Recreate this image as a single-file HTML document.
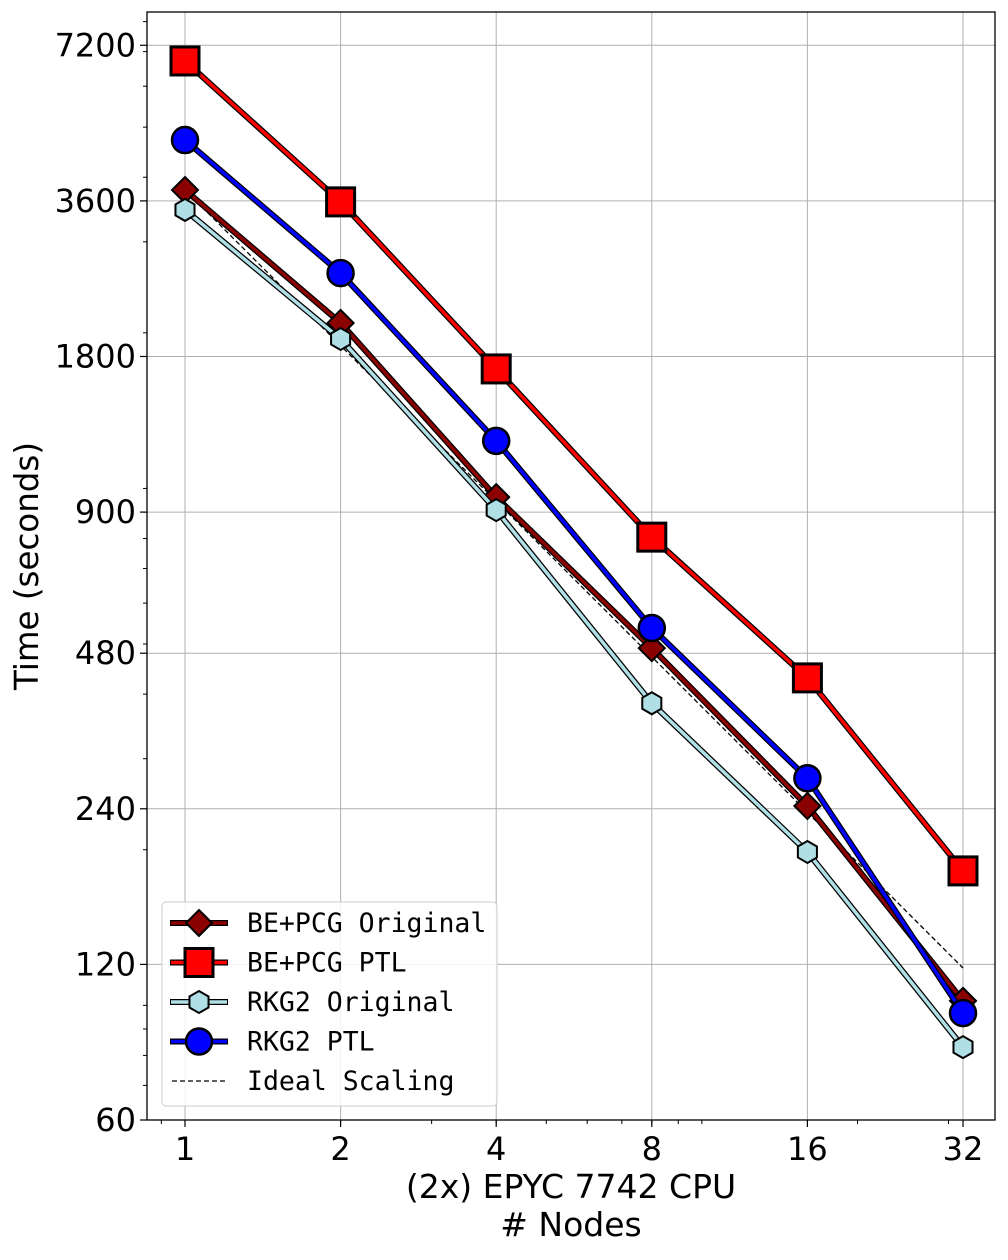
<!DOCTYPE html>
<html><head><meta charset="utf-8"><style>
body{margin:0;background:#fff}
svg text{font-family:"DejaVu Sans","Liberation Sans",sans-serif}
</style></head><body>
<svg id="chart" width="1008" height="1255" xmlns="http://www.w3.org/2000/svg"></svg>
<script>
const nodes=[1,2,4,8,16,32];
const bePcgOriginal=[3779,2090,962,491,243,102];
const bePcgPtl=[6714,3584,1703,805,430,182];
const rkg2Original=[3458,1946,908,384,198,83];
const rkg2Ptl=[4721,2610,1236,537,275,96.6];
const idealStart=3779;
const yTicks=[60,120,240,480,900,1800,3600,7200];
const xTicks=[1,2,4,8,16,32];

const L=147,T=12,R=995,B=1120,PX=155.6;
const xs=v=>185+Math.log2(v)*PX;
const ys=v=>1120-Math.log2(v/60)*PX;
const svg=document.getElementById('chart');
const NS='http://www.w3.org/2000/svg';
function mk(tag,attrs,parent){const e=document.createElementNS(NS,tag);for(const k in attrs)e.setAttribute(k,attrs[k]);(parent||svg).appendChild(e);return e;}

yTicks.forEach(v=>{const g=mk('line',{x1:L,x2:R,y1:ys(v),y2:ys(v),stroke:'#b0b0b0','stroke-width':1});

});
xTicks.forEach(v=>{const g=mk('line',{x1:xs(v),x2:xs(v),y1:T,y2:B,stroke:'#b0b0b0','stroke-width':1});

});

for(let e=1;e<=4;e++)for(let k=1;k<10;k++){const v=k*Math.pow(10,e);const y=ys(v);if(y<T||y>B)continue;
const t=mk('line',{x1:L-4,x2:L,y1:y,y2:y,stroke:'#000','stroke-width':1});

}
for(let e=-1;e<=1;e++)for(let k=1;k<10;k++){const v=k*Math.pow(10,e);const x=xs(v);if(x<L||x>R)continue;
const t=mk('line',{x1:x,x2:x,y1:B,y2:B+4,stroke:'#000','stroke-width':1});

}

yTicks.forEach(v=>{const y=ys(v);
const t=mk('line',{x1:L-7,x2:L,y1:y,y2:y,stroke:'#000','stroke-width':1.2});


const tx=mk('text',{x:L-11,y:y+11,'text-anchor':'end','font-size':32});tx.textContent=v;

});
xTicks.forEach(v=>{const x=xs(v);
const t=mk('line',{x1:x,x2:x,y1:B,y2:B+7,stroke:'#000','stroke-width':1.2});


const tx=mk('text',{x:x,y:B+40,'text-anchor':'middle','font-size':32});tx.textContent=v;

});

const ideal=mk('polyline',{points:nodes.map(n=>xs(n)+','+ys(idealStart/n)).join(' '),fill:'none',stroke:'#000','stroke-width':1.3,'stroke-dasharray':'5,3'});



function marker(type,x,y,color,g,s){
 if(type==='d')return mk('polygon',{points:`${x},${y-13} ${x+13},${y} ${x},${y+13} ${x-13},${y}`,fill:color,stroke:'#000','stroke-width':2},g);
 if(type==='s')return mk('rect',{x:x-14*s,y:y-14*s,width:28*s,height:28*s,fill:color,stroke:'#000','stroke-width':3},g);
 if(type==='h'){let p=[];for(let i=0;i<6;i++){const a=Math.PI/6+i*Math.PI/3;p.push((x+11*s*Math.cos(a))+','+(y+11*s*Math.sin(a)));}
  return mk('polygon',{points:p.join(' '),fill:color,stroke:'#000','stroke-width':2},g);}
 return mk('circle',{cx:x,cy:y,r:13*s,fill:color,stroke:'#000','stroke-width':2.5},g);
}
const series=[
 {name:'be-pcg-original',vals:bePcgOriginal,color:'#8b0000',m:'d',s:1},
 {name:'be-pcg-ptl',vals:bePcgPtl,color:'#ff0000',m:'s',s:1},
 {name:'rkg2-original',vals:rkg2Original,color:'#b0e0e6',m:'h',s:1},
 {name:'rkg2-ptl',vals:rkg2Ptl,color:'#0000ff',m:'o',s:1}
];
series.forEach(sr=>{
 const g=mk('g',{});
 
 
 const pts=sr.vals.map((v,i)=>xs(nodes[i])+','+ys(v)).join(' ');
 mk('polyline',{points:pts,fill:'none',stroke:'#000','stroke-width':6},g);
 mk('polyline',{points:pts,fill:'none',stroke:sr.color,'stroke-width':3.5},g);
 sr.vals.forEach((v,i)=>{const m=marker(sr.m,xs(nodes[i]),ys(v),sr.color,g,sr.s);
 
 });
});

const fr=mk('rect',{x:L,y:T,width:R-L,height:B-T,fill:'none',stroke:'#000','stroke-width':1.3});



const lg=mk('g',{});


mk('rect',{x:162,y:902,width:335,height:204,rx:4,fill:'#fff','fill-opacity':0.85,stroke:'#ccc','stroke-width':1},lg);
const labels=['BE+PCG Original','BE+PCG PTL','RKG2 Original','RKG2 PTL','Ideal Scaling'];
labels.forEach((lb,i)=>{const y=923+i*39.5;
 const eg=mk('g',{},lg);
 
 
 if(i<4){const sr=series[i];
  mk('line',{x1:170,x2:228,y1:y,y2:y,stroke:'#000','stroke-width':6},eg);
  mk('line',{x1:171,x2:227,y1:y,y2:y,stroke:sr.color,'stroke-width':3.5},eg);
  marker(sr.m,199,y,sr.color,eg,1);}
 else mk('line',{x1:172,x2:226,y1:y,y2:y,stroke:'#000','stroke-width':1.3,'stroke-dasharray':'5,3'},eg);
 const t=mk('text',{x:247,y:y+9,'font-size':26.5,style:'font-family:"DejaVu Sans Mono","Liberation Mono",monospace'},eg);t.textContent=lb;
});

const xt=mk('text',{x:571,y:1198,'text-anchor':'middle','font-size':33});xt.textContent='(2x) EPYC 7742 CPU';


const xt2=mk('text',{x:571,y:1236,'text-anchor':'middle','font-size':33});xt2.textContent='# Nodes';


const yt=mk('text',{x:0,y:0,'text-anchor':'middle','font-size':32.5,transform:'translate(38,566) rotate(-90)'});yt.textContent='Time (seconds)';


</script>
</body></html>
